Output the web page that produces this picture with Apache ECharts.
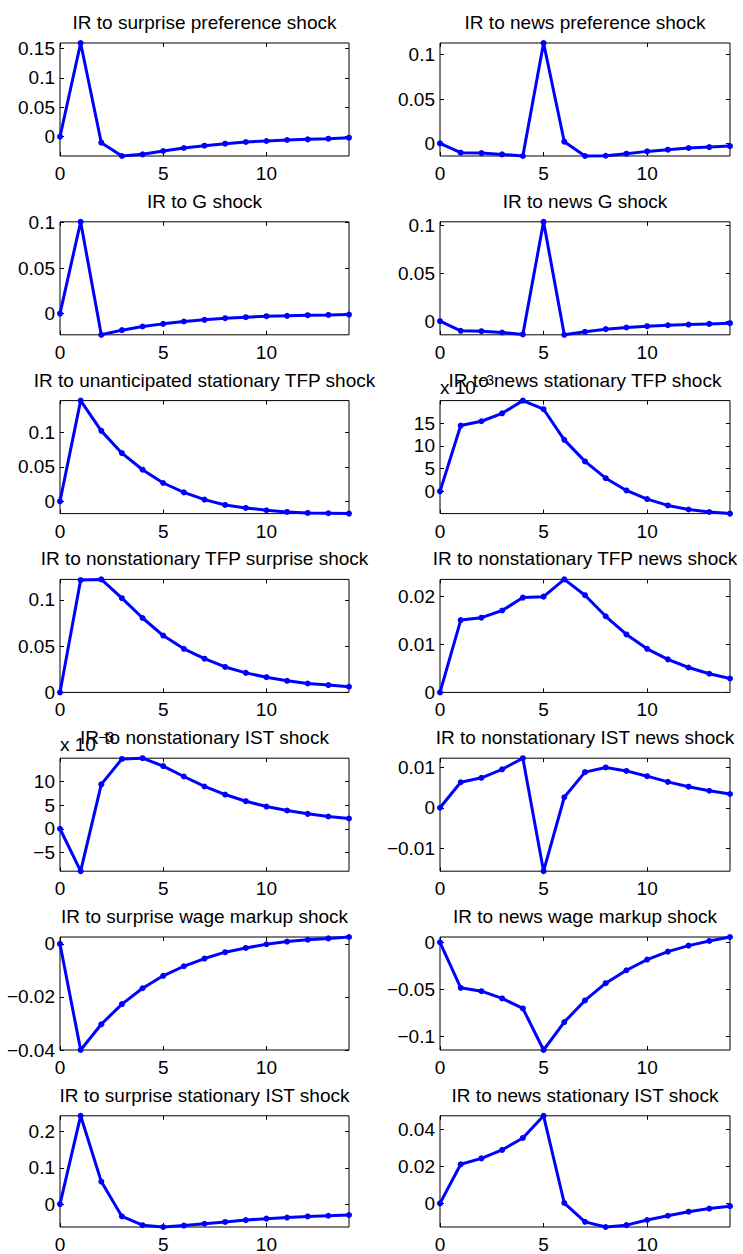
<!DOCTYPE html>
<html><head><meta charset="utf-8">
<script src="https://cdn.jsdelivr.net/npm/echarts@6/dist/echarts.min.js"></script>
<style>html,body{margin:0;padding:0;background:#fff}#c{width:743px;height:1254px}</style>
</head><body><div id="c"></div>
<script>
// ---- data ----
const horizon = [0,1,2,3,4,5,6,7,8,9,10,11,12,13,14];
const xTickValues = [0, 5, 10];

const panelTitles = [
  'IR to surprise preference shock', 'IR to news preference shock',
  'IR to G shock', 'IR to news G shock',
  'IR to unanticipated stationary TFP shock', 'IR to news stationary TFP shock',
  'IR to nonstationary TFP surprise shock', 'IR to nonstationary TFP news shock',
  'IR to nonstationary IST shock', 'IR to nonstationary IST news shock',
  'IR to surprise wage markup shock', 'IR to news wage markup shock',
  'IR to surprise stationary IST shock', 'IR to news stationary IST shock'
];

const surprisePreference = [0, 0.1593, -0.0102, -0.0328, -0.0300, -0.0243, -0.0192, -0.0153, -0.0119, -0.0090, -0.0073, -0.0056, -0.0045, -0.0034, -0.0017];
const newsPreference = [0, -0.0105, -0.0109, -0.0124, -0.0142, 0.1131, 0.0019, -0.0142, -0.0139, -0.0116, -0.0090, -0.0071, -0.0052, -0.0041, -0.0030];
const govShock = [0, 0.1007, -0.0233, -0.0182, -0.0142, -0.0113, -0.0087, -0.0069, -0.0051, -0.0040, -0.0029, -0.0025, -0.0018, -0.0015, -0.0011];
const newsGovShock = [0, -0.0100, -0.0104, -0.0118, -0.0138, 0.1038, -0.0142, -0.0111, -0.0083, -0.0066, -0.0052, -0.0042, -0.0035, -0.0028, -0.0021];
const unanticipatedStatTFP = [0, 0.1464, 0.1024, 0.0700, 0.0459, 0.0266, 0.0130, 0.0024, -0.0053, -0.0097, -0.0130, -0.0155, -0.0169, -0.0174, -0.0179];
const newsStatTFP = [0, 0.0145, 0.01545, 0.0172, 0.0200, 0.0181, 0.01135, 0.0066, 0.0029, 0.0002, -0.0017, -0.0031, -0.0040, -0.00455, -0.0049];
const nonstatTFPSurprise = [0, 0.1214, 0.1221, 0.1018, 0.0804, 0.0614, 0.0471, 0.0364, 0.0275, 0.0211, 0.0164, 0.0125, 0.0096, 0.0079, 0.0061];
const nonstatTFPNews = [0, 0.0151, 0.0156, 0.0171, 0.0198, 0.0200, 0.0236, 0.0203, 0.0159, 0.0121, 0.0091, 0.0069, 0.0052, 0.0039, 0.0029];
const nonstatIST = [0, -0.00893, 0.00935, 0.0147, 0.01485, 0.0132, 0.0110, 0.0089, 0.0072, 0.0058, 0.00467, 0.00384, 0.00314, 0.00258, 0.00216];
const nonstatISTNews = [0, 0.0063, 0.0074, 0.0095, 0.01224, -0.01567, 0.0026, 0.0088, 0.00996, 0.0091, 0.0078, 0.0064, 0.0052, 0.0042, 0.0034];
const surpriseWageMarkup = [0, -0.0400, -0.0303, -0.0227, -0.0167, -0.0120, -0.0084, -0.0055, -0.0031, -0.0015, -0.0001, 0.0009, 0.0016, 0.0021, 0.00263];
const newsWageMarkup = [0, -0.0482, -0.0518, -0.0595, -0.0701, -0.1141, -0.0845, -0.0616, -0.0433, -0.0296, -0.0183, -0.0099, -0.0035, 0.0014, 0.0056];
const surpriseStatIST = [0, 0.243, 0.062, -0.034, -0.058, -0.063, -0.059, -0.054, -0.049, -0.044, -0.040, -0.037, -0.034, -0.032, -0.030];
const newsStatIST = [0, 0.0212, 0.0244, 0.0290, 0.0355, 0.0475, 0.0002, -0.0100, -0.0128, -0.0118, -0.0090, -0.0067, -0.0045, -0.0028, -0.0015];

const ticksSurprisePreference = [0, 0.05, 0.1, 0.15];
const ticksNewsPreference = [0, 0.05, 0.1];
const ticksGov = [0, 0.05, 0.1];
const ticksNewsGov = [0, 0.05, 0.1];
const ticksUnantStatTFP = [0, 0.05, 0.1];
const ticksNewsStatTFP = [0, 0.005, 0.01, 0.015];
const ticksNonstatTFPSurprise = [0, 0.05, 0.1];
const ticksNonstatTFPNews = [0, 0.01, 0.02];
const ticksNonstatIST = [-0.005, 0, 0.005, 0.01];
const ticksNonstatISTNews = [-0.01, 0, 0.01];
const ticksSurpriseWage = [-0.04, -0.02, 0];
const ticksNewsWage = [-0.1, -0.05, 0];
const ticksSurpriseStatIST = [0, 0.1, 0.2];
const ticksNewsStatIST = [0, 0.02, 0.04];

// label scale factor (x 10^-3 panels)
const labelScales = [1,1, 1,1, 1,1000, 1,1, 1000,1, 1,1, 1,1];

const panelData = [surprisePreference, newsPreference, govShock, newsGovShock,
  unanticipatedStatTFP, newsStatTFP, nonstatTFPSurprise, nonstatTFPNews,
  nonstatIST, nonstatISTNews, surpriseWageMarkup, newsWageMarkup,
  surpriseStatIST, newsStatIST];
const panelTicks = [ticksSurprisePreference, ticksNewsPreference, ticksGov, ticksNewsGov,
  ticksUnantStatTFP, ticksNewsStatTFP, ticksNonstatTFPSurprise, ticksNonstatTFPNews,
  ticksNonstatIST, ticksNonstatISTNews, ticksSurpriseWage, ticksNewsWage,
  ticksSurpriseStatIST, ticksNewsStatIST];

// ---- layout ----
const FONT = '"Liberation Sans", Arial, Helvetica, sans-serif';
const colLeft = [60, 440];
const colWidth = [289, 290];
const rowTop0 = 43, rowStep = 178.8, panelH = 113;

const grids = [], xAxes = [], yAxes = [], series = [], graphics = [];

function fmt(v, s) {
  let str = s === 1000 ? String(Math.round(v * 1000)) : String(+v.toFixed(6));
  return str.replace('-', '\u2212');
}

panelData.forEach((vals, k) => {
  const row = Math.floor(k / 2), col = k % 2;
  const top = rowTop0 + row * rowStep;
  const left = colLeft[col], width = colWidth[col];
  grids.push({ left, top, width, height: panelH, show: true, borderColor: '#000', borderWidth: 1, backgroundColor: 'transparent' });
  const ymin = Math.min(...vals), ymax = Math.max(...vals);
  const scale = labelScales[k];
  const ticks = panelTicks[k];
  const tickStyle = { show: true, inside: true, length: 4, lineStyle: { color: '#000', width: 1 } };
  const noLine = { show: false, onZero: false };
  xAxes.push({ type: 'value', gridIndex: k, position: 'bottom', min: 0, max: 14,
    axisLine: noLine, splitLine: { show: false },
    axisTick: Object.assign({ customValues: xTickValues }, tickStyle),
    axisLabel: { customValues: xTickValues, color: '#000', fontSize: 19, fontFamily: FONT, margin: 8 } });
  xAxes.push({ type: 'value', gridIndex: k, position: 'top', min: 0, max: 14,
    axisLine: noLine, splitLine: { show: false },
    axisTick: Object.assign({ customValues: xTickValues }, tickStyle),
    axisLabel: { show: false } });
  yAxes.push({ type: 'value', gridIndex: k, position: 'left', min: ymin, max: ymax,
    axisLine: noLine, splitLine: { show: false },
    axisTick: Object.assign({ customValues: ticks }, tickStyle),
    axisLabel: { customValues: ticks, color: '#000', fontSize: 19, fontFamily: FONT, margin: 5,
      formatter: v => fmt(v, scale) } });
  yAxes.push({ type: 'value', gridIndex: k, position: 'right', min: ymin, max: ymax,
    axisLine: noLine, splitLine: { show: false },
    axisTick: Object.assign({ customValues: ticks }, tickStyle),
    axisLabel: { show: false } });
  series.push({ type: 'line', xAxisIndex: 2 * k, yAxisIndex: 2 * k,
    data: horizon.map((h, i) => [h, vals[i]]),
    symbol: 'circle', symbolSize: 6, showAllSymbol: true, clip: false,
    itemStyle: { color: '#0000ff' }, lineStyle: { color: '#0000ff', width: 3 },
    emphasis: { disabled: true } });
  graphics.push({ type: 'text', z: 10, style: { text: panelTitles[k], x: left + width / 2, y: top - 30,
    textAlign: 'center', textVerticalAlign: 'top', fill: '#000', font: '19px ' + FONT } });
  if (scale === 1000) {
    graphics.push({ type: 'text', z: 9, style: { text: 'x 10', x: left, y: top - 4,
      textAlign: 'left', textVerticalAlign: 'bottom', fill: '#000', font: '19px ' + FONT } });
    graphics.push({ type: 'text', z: 9, style: { text: '\u22123', x: left + 38, y: top - 14,
      textAlign: 'left', textVerticalAlign: 'bottom', fill: '#000', font: '14px ' + FONT } });
  }
});

const chart = echarts.init(document.getElementById('c'), null, { renderer: 'svg' });
chart.setOption({
  animation: false,
  backgroundColor: '#fff',
  grid: grids, xAxis: xAxes, yAxis: yAxes, series,
  graphic: graphics
});
</script></body></html>
